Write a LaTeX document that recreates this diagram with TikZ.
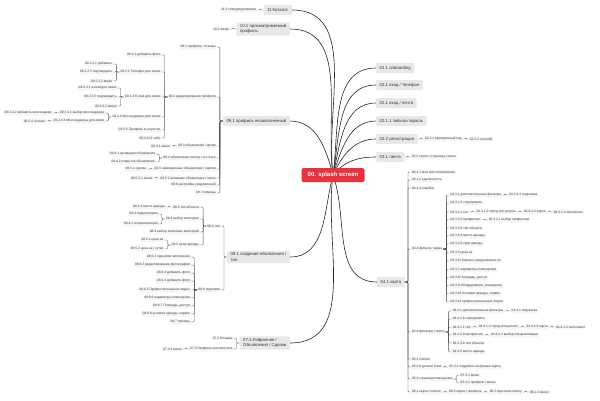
\documentclass[tikz,border=0pt]{standalone}
\usepackage{fontspec}
\setmainfont{Liberation Sans}
\usetikzlibrary{calc}
\pgfdeclarelayer{bg}
\pgfsetlayers{bg,main}
\definecolor{splash}{HTML}{E8323F}
\newcommand\Lkid[4]{\node[leaf,anchor=east] (#1) at ($(#2.west)+(-6,#3)$) {#4};
  \draw[sub] (#2.west) -- ++(-3,0) |- (#1.east);}
\newcommand\Rkid[4]{\node[leaf,anchor=west] (#1) at ($(#2.east)+(6,#3)$) {#4};
  \draw[sub] (#2.east) -- ++(3,0) |- (#1.west);}
\begin{document}
\begin{tikzpicture}[x=1pt,y=-1pt,
  leaf/.style={fill=black!4, text=black!75, font=\fontsize{3.3}{3.8}\selectfont, inner xsep=1pt, inner ysep=0.9pt, rounded corners=0.4pt},
  mainbox/.style={fill=black!9, text=black!80, font=\fontsize{4.3}{5.2}\selectfont, inner xsep=3.5pt, inner ysep=2pt, minimum height=10pt, rounded corners=1pt, align=left},
  central/.style={fill=splash, text=white, font=\bfseries\fontsize{6}{7}\selectfont, minimum width=63pt, minimum height=14pt, rounded corners=1.5pt},
  sub/.style={draw=black!70, line width=0.35pt, rounded corners=1pt},
  curve/.style={draw=black!85, line width=0.6pt}]
\begin{pgfonlayer}{bg}
\fill[white] (0,0) rectangle (600,400);
\end{pgfonlayer}
\useasboundingbox (0,0) rectangle (600,400);

\node[central] (c) at (333,175) {00. splash screen};

% right main branches
\node[mainbox,anchor=west] (o1) at (376,68) {01.1 onboarding};
\node[mainbox,anchor=west] (o2) at (376,85) {02.1 вход / телефон};
\node[mainbox,anchor=west] (o3) at (376,103) {02.1 вход / почта};
\node[mainbox,anchor=west] (o4) at (376,121) {02.1.1 забыли пароль};
\node[mainbox,anchor=west] (o5) at (376,139) {02.2 регистрация};
\Rkid{o51}{o5}{0}{02.2.1 проверочный код}
\Rkid{o52}{o51}{0}{02.2.2 спасибо}
\node[mainbox,anchor=west] (o6) at (376,157) {03.1 лента};
\Rkid{o61}{o6}{0}{03.2 лента / страница статьи}
\node[mainbox,anchor=west] (p41) at (377,282) {04.1 карта};

\Rkid{a411}{p41}{-110}{04.1.1 мое местоположение}
\Rkid{a412}{p41}{-102}{04.1.2 удалённость}
\Rkid{a413}{p41}{-94}{04.1.3 ошибка}
\Rkid{p43}{p41}{-33}{04.3 фильтр / экран}
\Rkid{p44}{p41}{50}{04.4 фильтры / поиск}
\Rkid{a51}{p41}{77}{05.1 список}
\Rkid{p52}{p41}{85}{05.2.0 детали Card}
\Rkid{p53}{p41}{97}{05.3 страница помещения}
\Rkid{p61}{p41}{110}{06.1 карта / список}

\Rkid{b1}{p43}{-54}{04.3.1 дополнительные фильтры}
\Rkid{b1a}{b1}{0}{04.3.1.1 подсказка}
\Rkid{b2}{p43}{-46}{04.3.1.5 сортировать}
\Rkid{b3}{p43}{-37}{04.3.1.1 гео}
\Rkid{b3a}{b3}{0}{04.3.1.2 город или регион}
\Rkid{b3b}{b3a}{0}{04.3.1.3 карта}
\Rkid{b3c}{b3b}{0}{04.3.1.4 заполнено}
\Rkid{b4}{p43}{-29}{04.3.2.0 профессии}
\Rkid{b4a}{b4}{0}{04.3.2.1 выбор профессии}
\Rkid{b5}{p43}{-21}{04.3.3.0 тип объекта}
\Rkid{b6}{p43}{-13}{04.3.5.0 место аренды}
\Rkid{b7}{p43}{-5}{04.3.4.0 срок аренды}
\Rkid{b8}{p43}{4}{04.3.5 цена за}
\Rkid{b9}{p43}{12}{04.3.6 Показать предложения по}
\Rkid{b10}{p43}{21}{04.3.7 параметры помещения}
\Rkid{b11}{p43}{29}{04.3.8 Площадь, доступ}
\Rkid{b12}{p43}{37}{04.3.9 Оборудование, освещение}
\Rkid{b13}{p43}{45}{04.3.10 Условия аренды, сервис}
\Rkid{b14}{p43}{53}{04.3.11 профессиональные опции}

\Rkid{d1}{p44}{-21}{04.4.1 дополнительные фильтры}
\Rkid{d1a}{d1}{0}{04.4.1 подсказка}
\Rkid{d2}{p44}{-13}{04.4.1.6 сортировать}
\Rkid{d3}{p44}{-5}{04.4.1.1 гео}
\Rkid{d3a}{d3}{0}{04.4.1.2 город или регион}
\Rkid{d3b}{d3a}{0}{04.4.1.3 карта}
\Rkid{d3c}{d3b}{0}{04.4.1.4 заполнено}
\Rkid{d4}{p44}{3}{04.4.2.0 профессии}
\Rkid{d4a}{d4}{0}{04.4.2.2 выбор специализации}
\Rkid{d5}{p44}{11}{04.4.3.0 тип объекта}
\Rkid{d6}{p44}{20}{04.4.5 место аренды}

\Rkid{p52a}{p52}{0}{05.2.1 подробно на превью карты}
\Rkid{p53a}{p53}{-4}{05.3.1 меню}
\Rkid{p53b}{p53}{4}{05.3.2 профиль / меню}
\Rkid{p61a}{p61}{0}{06.2 карта / профиль}
\Rkid{p61b}{p61a}{0}{06.2 карточка списку}
\Rkid{p61c}{p61b}{0}{06.1.3 меню}

% left main branches
\node[mainbox,anchor=east] (cat) at (292,10) {11 Каталог};
\Lkid{cat1}{cat}{0}{11.2 спецпредложения}
\node[mainbox,anchor=east] (prof) at (290,29) {10.1 просматриваемый\\профиль};
\Lkid{prof1}{prof}{0}{10.2 меню}
\node[mainbox,anchor=east] (p91) at (290,121) {09.1 профиль незаполненный};
\node[mainbox,anchor=east] (p81) at (290,257) {08.1 создание объявления /\\тип};
\node[mainbox,anchor=east] (p71) at (290,343) {07.1 Избранное /\\Объявления / Сделки};

\Lkid{e1}{p91}{-74}{09.1 профиль / отзывы}
\Lkid{p92}{p91}{-24}{09.2 редактирование профиля}
\Lkid{p93}{p91}{25}{09.3 объявления / архив}
\Lkid{p94}{p91}{37}{09.4 объявления поиску / в статье}
\Lkid{p95}{p91}{48}{09.5 завершенные объявления / сделки}
\Lkid{p96}{p91}{57}{09.5.2 активные объявления / поиск}
\Lkid{e7}{p91}{64}{09.6 настройка уведомлений}
\Lkid{e8}{p91}{72}{09.7 помощь}

\Lkid{f1}{p92}{-42}{09.2.1 добавить фото}
\Lkid{p922}{p92}{-25}{09.2.2 Телефон для связи}
\Lkid{p923}{p92}{0}{09.2.3 E-mail для связи}
\Lkid{p924}{p92}{20}{09.2.4 Мессенджеры для связи}
\Lkid{f5}{p92}{33}{09.2.5 Профиль в соцсетях}
\Lkid{f6}{p92}{41}{09.2.6 О себе}

\Lkid{g1}{p922}{-8}{09.2.2.1 добавить}
\Lkid{g2}{p922}{0}{09.2.2.5 подтвердить}
\Lkid{g3}{p922}{9}{09.2.2.2 меню}
\Lkid{h1}{p923}{-9}{09.2.3.1 e-mail для связи}
\Lkid{h2}{p923}{0}{09.2.3.5 подтвердить}
\Lkid{h3}{p923}{9}{09.2.3.2 меню}
\Lkid{k1}{p924}{-4}{09.2.4.1 выбор мессенджера}
\Lkid{k1a}{k1}{0}{09.2.4.2 добавить мессенджер}
\Lkid{k2}{p924}{4}{09.2.4.3 Мессенджеры для связи}
\Lkid{k2a}{k2}{0}{09.2.4.4 меню}

\Lkid{p93a}{p93}{0}{09.3.1 меню}
\Lkid{p94a}{p94}{-4}{09.4.1 активация объявления}
\Lkid{p94b}{p94}{4}{09.4.2 открытое объявление}
\Lkid{p95a}{p95}{0}{09.5.1 сделка}
\Lkid{p96a}{p96}{0}{09.5.2.1 заказ}

\Lkid{p83}{p81}{-31}{08.3 тип}
\Lkid{p86}{p81}{33}{08.6 черновик}
\Lkid{p82}{p83}{-19}{08.2 тип объекта}
\Lkid{p82a}{p82}{0}{08.3.1 место аренды}
\Lkid{p84}{p83}{-7}{08.4 выбор категории}
\Lkid{p84a}{p84}{-5}{08.4 подкатегория}
\Lkid{p84b}{p84}{5}{08.4.1 специализация}
\Lkid{p87}{p83}{6}{08.4 выбор ключевых категорий}
\Lkid{p85}{p83}{19}{08.5 цена аренды}
\Lkid{p85a}{p85}{-5}{08.5.1 цена за}
\Lkid{p85b}{p85}{4}{08.5.2 цена за / сутки}

\Lkid{q1}{p86}{-33}{08.6.1 черновик заполнения}
\Lkid{q2}{p86}{-25}{08.6.2 редактирование фотографии}
\Lkid{q3}{p86}{-17}{08.6.3 добавить фото}
\Lkid{q4}{p86}{-9}{08.6.4 добавить фото}
\Lkid{q5}{p86}{0}{08.6.5 Профессиональное видео}
\Lkid{q6}{p86}{8}{08.6.6 параметры помещения}
\Lkid{q7}{p86}{16}{08.6.7 Площадь, доступ}
\Lkid{q8}{p86}{24}{08.6.8 условия аренды, сервис}
\Lkid{q9}{p86}{32}{08.7 помощь}

\Lkid{r1}{p71}{-5}{07.2 Отзывы}
\Lkid{p73}{p71}{6}{07.3 Профиль исполнителя}
\Lkid{p73a}{p73}{0}{07.3.1 меню}

\begin{pgfonlayer}{bg}
\draw[curve] (c.center) to[out=82,in=180] (o1.west);
\draw[curve] (c.center) to[out=80,in=180] (o2.west);
\draw[curve] (c.center) to[out=77,in=180] (o3.west);
\draw[curve] (c.center) to[out=72,in=180] (o4.west);
\draw[curve] (c.center) to[out=65,in=180] (o5.west);
\draw[curve] (c.center) to[out=50,in=180] (o6.west);
\draw[curve] (c.center) to[out=-70,in=180] (p41.west);
\draw[curve] (c.center) to[out=97,in=0] (cat.east);
\draw[curve] (c.center) to[out=98,in=0] (prof.east);
\draw[curve] (c.center) to[out=105,in=0] (p91.east);
\draw[curve] (c.center) to[out=-105,in=0] (p81.east);
\draw[curve] (c.center) to[out=-98,in=0] (p71.east);
\end{pgfonlayer}
\end{tikzpicture}
\end{document}
